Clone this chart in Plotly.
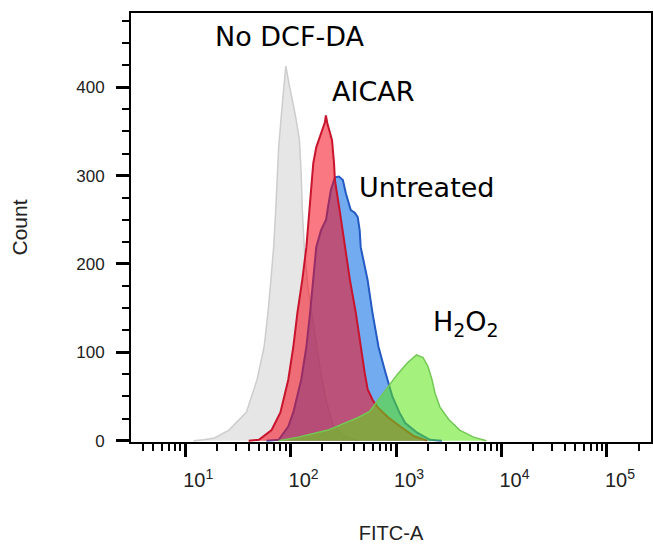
import plotly.graph_objects as go

# FITC-A values (x) and counts (y) for each histogram
gray_x = [12, 15, 19, 26, 38, 48, 56, 61, 65, 69, 72, 75, 77, 82, 88, 90, 98, 111, 121, 126, 129, 135, 147, 167, 191, 217, 252, 313, 433]
gray_y = [0, 1, 3, 12, 32, 69, 106, 145, 182, 219, 258, 295, 332, 371, 408, 424, 400, 368, 341, 302, 262, 216, 171, 125, 80, 46, 18, 6, 0]

red_x = [40, 50, 66, 80, 95, 106, 116, 129, 141, 150, 157, 164, 175, 190, 211, 216, 224, 237, 247, 258, 263, 294, 327, 365, 415, 462, 504, 538, 600, 667, 828, 1097, 1485, 1967]
red_y = [0, 1, 12, 32, 69, 106, 145, 182, 219, 258, 295, 314, 332, 344, 360, 368, 358, 348, 340, 314, 295, 258, 219, 182, 145, 106, 77, 58, 46, 38, 27, 16, 5, 0]

blue_x = [59, 77, 95, 106, 126, 141, 153, 164, 175, 194, 217, 226, 241, 263, 287, 313, 334, 372, 406, 433, 452, 462, 537, 597, 682, 794, 922, 1074, 1222, 1585, 2099, 2717]
blue_y = [0, 1, 16, 32, 69, 106, 145, 182, 219, 238, 250, 264, 284, 298, 299, 295, 280, 261, 258, 253, 238, 219, 182, 145, 106, 77, 50, 32, 20, 9, 1, 0]

green_x = [77, 118, 226, 433, 561, 682, 828, 1028, 1277, 1561, 1803, 2009, 2192, 2339, 2606, 3163, 4014, 5436, 7194]
green_y = [0, 4, 12, 26, 33, 46, 60, 75, 88, 97, 94, 84, 69, 54, 38, 24, 12, 4, 0]

major_ticks = [10, 100, 1000, 10000, 100000]
major_text = ["10<sup>1</sup>", "10<sup>2</sup>", "10<sup>3</sup>", "10<sup>4</sup>", "10<sup>5</sup>"]
minor_ticks = [m * 10 ** e for e in range(0, 6) for m in range(2, 10)]
y_ticks = [0, 100, 200, 300, 400]

labels = ["No DCF-DA", "AICAR", "Untreated", "H<sub>2</sub>O<sub>2</sub>"]

fig = go.Figure()
fig.add_trace(go.Scatter(x=gray_x, y=gray_y, mode="lines", fill="tozeroy",
                         line=dict(color="rgb(205,205,205)", width=1.5),
                         fillcolor="rgba(205,205,205,0.5)", showlegend=False))
fig.add_trace(go.Scatter(x=blue_x, y=blue_y, mode="lines", fill="tozeroy",
                         line=dict(color="rgb(35,90,195)", width=2),
                         fillcolor="rgba(20,115,230,0.6)", showlegend=False))
fig.add_trace(go.Scatter(x=red_x, y=red_y, mode="lines", fill="tozeroy",
                         line=dict(color="rgb(200,20,45)", width=2),
                         fillcolor="rgba(245,10,25,0.55)", showlegend=False))
fig.add_trace(go.Scatter(x=green_x, y=green_y, mode="lines", fill="tozeroy",
                         line=dict(color="rgb(115,200,85)", width=1.5),
                         fillcolor="rgba(90,230,20,0.55)", showlegend=False))

xtick_font = dict(family="Liberation Sans Narrow, Arial Narrow, Liberation Sans, sans-serif", size=20, color="#222")
ytick_font = dict(family="Liberation Sans, Arial, sans-serif", size=17, color="#222")
xtitle_font = dict(family="Liberation Sans, Arial, sans-serif", size=20, color="#222")
ytitle_font = dict(family="Liberation Sans, Arial, sans-serif", size=21, color="#222")

fig.update_layout(
    width=653, height=546,
    margin=dict(l=131, r=0, t=13, b=104),
    plot_bgcolor="white", paper_bgcolor="white",
    xaxis=dict(type="log", range=[0.486, 5.418],
               tickmode="array", tickvals=major_ticks, ticktext=major_text,
               ticks="outside", ticklen=13, tickwidth=3, tickcolor="black",
               minor=dict(tickmode="array", tickvals=minor_ticks, ticks="outside",
                          ticklen=7, tickwidth=2, tickcolor="black"),
               showgrid=False, zeroline=False,
               showline=True, linecolor="black", linewidth=2, mirror=True,
               tickfont=xtick_font, ticklabelshift=13, ticklabelstandoff=6,
               title=dict(text="FITC-A", font=xtitle_font, standoff=36)),
    yaxis=dict(range=[-1.5, 484], tickmode="array", tickvals=y_ticks,
               ticks="outside", ticklen=13, tickwidth=3, tickcolor="black",
               minor=dict(dtick=25, tick0=0, ticks="outside", ticklen=7, tickwidth=2,
                          tickcolor="black"),
               showgrid=False, zeroline=False,
               showline=True, linecolor="black", linewidth=2, mirror=True,
               tickfont=ytick_font, ticklabelstandoff=8,
               title=dict(text="Count", font=ytitle_font, standoff=43)),
)

ann_font = dict(family="DejaVu Sans, sans-serif", size=27, color="black")
ann_pos = [(0.3065, 0.946), (0.4655, 0.818), (0.569, 0.594), (0.644, 0.277)]
for text, (ax, ay) in zip(labels, ann_pos):
    fig.add_annotation(text=text, xref="paper", yref="paper", x=ax, y=ay,
                       xanchor="center", yanchor="middle", showarrow=False, font=ann_font)

# remove the default page margin so the 653x546 figure fills the window exactly
fig.write_html("out.html", config={"displayModeBar": False}, post_script=(
    "document.body.style.margin='0';"
    "document.documentElement.style.overflow='hidden';"
    "document.body.style.overflow='hidden';"))
